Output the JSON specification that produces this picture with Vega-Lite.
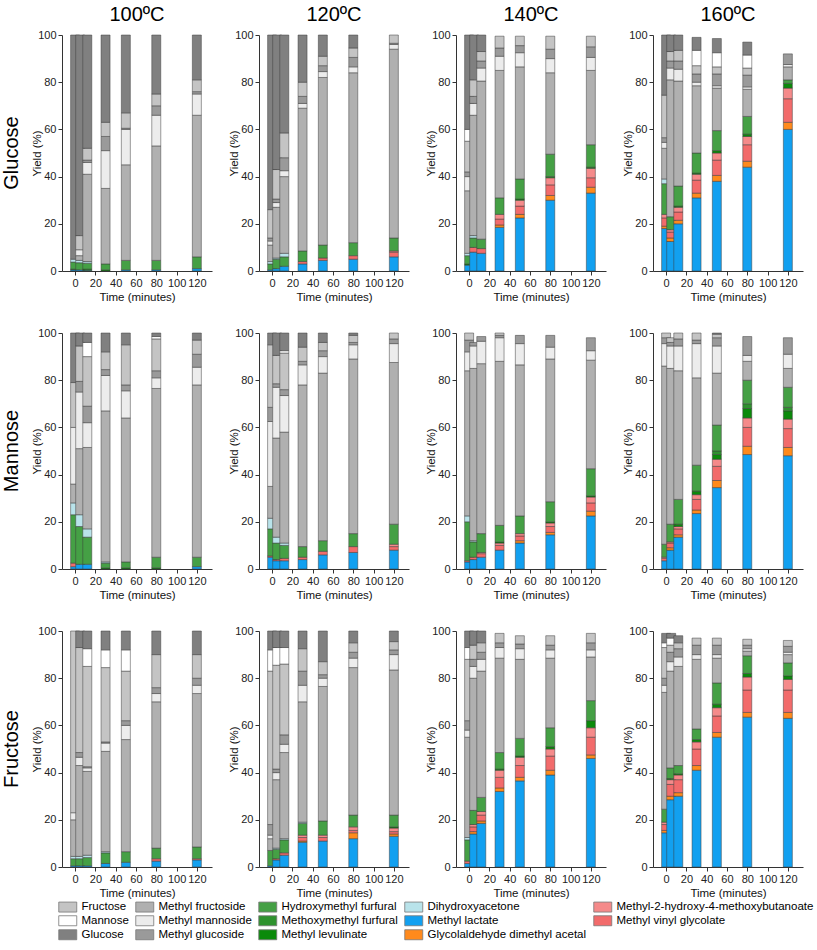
{
"$schema": "https://vega.github.io/schema/vega-lite/v6.json",
"background": "white",
"padding": {"left": 2, "top": 5, "right": 2, "bottom": 2},
"data": {"values": [
{"s":"Glucose","T":"100ºC","t":0,"ML":0.5,"MLev":0.3,"HMF":3,"DHA":1.2,"Glu":95},
{"s":"Glucose","T":"100ºC","t":5,"ML":0.5,"HMF":3,"DHA":1,"MFr":2,"MMa":2.5,"Fru":6,"Glu":85},
{"s":"Glucose","T":"100ºC","t":12,"ML":0.3,"MLev":0.5,"HMF":2.5,"DHA":0.7,"MFr":37,"MMa":5,"MGl":1,"Fru":5,"Glu":48},
{"s":"Glucose","T":"100ºC","t":30,"MLev":0.5,"HMF":2.5,"MFr":32,"MMa":16,"MGl":6,"Fru":6,"Glu":37},
{"s":"Glucose","T":"100ºC","t":50,"ML":0.5,"HMF":4,"MFr":40.5,"MMa":15,"MGl":0.5,"Fru":6.5,"Glu":33},
{"s":"Glucose","T":"100ºC","t":80,"ML":0.5,"HMF":4,"MFr":48.5,"MMa":13,"MGl":4,"Fru":5,"Glu":25},
{"s":"Glucose","T":"100ºC","t":120,"ML":1,"HMF":5,"MFr":60,"MMa":9,"MGl":1,"Fru":5,"Glu":19},
{"s":"Glucose","T":"120ºC","t":0,"ML":0.5,"HMF":2.5,"DHA":1,"MFr":7,"MMa":1.7,"MGl":1.3,"Fru":12,"Glu":74},
{"s":"Glucose","T":"120ºC","t":5,"ML":1,"HMF":4,"DHA":0.5,"MFr":21.5,"MMa":2,"MGl":1.5,"Fru":12.5,"Glu":57},
{"s":"Glucose","T":"120ºC","t":12,"ML":2,"HMF":4,"DHA":1.5,"MFr":32.5,"MMa":2.5,"MGl":5.5,"Fru":10.5,"Glu":41.5},
{"s":"Glucose","T":"120ºC","t":30,"ML":3,"MVG":1,"HMF":4.5,"MFr":60.5,"MMa":2,"MGl":3,"Fru":6,"Glu":20},
{"s":"Glucose","T":"120ºC","t":50,"ML":4.5,"MVG":1,"HMF":5.5,"MFr":71,"MMa":2.5,"MGl":2.5,"Fru":4,"Glu":9},
{"s":"Glucose","T":"120ºC","t":80,"ML":5,"MVG":1.5,"HMF":5.5,"MFr":72,"MMa":2.5,"MGl":4,"Fru":4,"Glu":5.5},
{"s":"Glucose","T":"120ºC","t":120,"ML":6,"MVG":2,"MHMB":0.5,"HMF":5.5,"MFr":80,"MMa":2,"MGl":0.5,"Fru":3.5},
{"s":"Glucose","T":"140ºC","t":0,"ML":2.5,"MLev":0.5,"HMF":3.5,"DHA":1,"MFr":26.5,"MMa":6,"MGl":2,"Fru":13,"Man":5,"Glu":40},
{"s":"Glucose","T":"140ºC","t":5,"ML":8,"MVG":2,"HMF":4,"DHA":1,"MFr":51,"MMa":5,"MGl":3,"Fru":7,"Glu":19},
{"s":"Glucose","T":"140ºC","t":12,"ML":7.5,"MVG":2,"HMF":4,"MFr":67,"MMa":5.5,"MGl":3,"Fru":4,"Glu":7},
{"s":"Glucose","T":"140ºC","t":30,"ML":18.5,"GA":1,"MVG":2.5,"MHMB":2,"HMF":7,"MFr":54,"MMa":6,"MGl":3.5,"Fru":5},
{"s":"Glucose","T":"140ºC","t":50,"ML":22.5,"GA":1.5,"MVG":3.5,"MHMB":2.5,"MLev":0.5,"HMF":8.5,"MFr":47.5,"MMa":6,"MGl":3,"Fru":4},
{"s":"Glucose","T":"140ºC","t":80,"ML":30,"GA":2,"MVG":4.5,"MHMB":3,"MLev":0.5,"HMF":9.5,"MFr":34.5,"MMa":6,"MGl":4,"Fru":5.5},
{"s":"Glucose","T":"140ºC","t":120,"ML":33,"GA":2.5,"MVG":4,"MHMB":4,"MLev":0.5,"HMF":9.5,"MFr":31.5,"MMa":5.5,"MGl":4.5,"Fru":4.5},
{"s":"Glucose","T":"160ºC","t":0,"ML":18,"GA":1,"MVG":3.5,"MHMB":1.5,"HMF":13,"DHA":2,"MFr":13,"MMa":2.5,"MGl":2,"Fru":18,"Glu":25.5},
{"s":"Glucose","T":"160ºC","t":5,"ML":12.5,"GA":1.5,"MVG":2.5,"MHMB":1,"HMF":5.5,"MFr":58,"MMa":5,"MGl":3,"Fru":4,"Glu":7},
{"s":"Glucose","T":"160ºC","t":12,"ML":20,"GA":1.5,"MVG":3.5,"MHMB":2,"MLev":0.5,"HMF":8.5,"MFr":44.5,"MMa":5,"MGl":3.5,"Fru":4.5,"Glu":6.5},
{"s":"Glucose","T":"160ºC","t":30,"ML":31,"GA":2,"MVG":5.5,"MHMB":2.5,"MLev":0.5,"HMF":8.5,"MFr":28.5,"MMa":1.5,"MGl":3.5,"Fru":3.5,"Man":6.5,"Glu":5.5},
{"s":"Glucose","T":"160ºC","t":50,"ML":38,"GA":2.5,"MVG":6.5,"MHMB":3,"MLev":1,"HMF":8.5,"MFr":18,"MMa":1,"MGl":5,"Fru":3,"Man":6,"Glu":6},
{"s":"Glucose","T":"160ºC","t":80,"ML":44,"GA":2.5,"MVG":7,"MHMB":3.5,"MLev":1,"HMF":7.5,"MFr":11.5,"MMa":1,"MGl":5,"Fru":3,"Man":5.5,"Glu":5.5},
{"s":"Glucose","T":"160ºC","t":120,"ML":60,"GA":3,"MVG":10,"MHMB":4.5,"MLev":2,"HMF":1.5,"MFr":5.5,"MMa":1,"MGl":4.5},
{"s":"Mannose","T":"100ºC","t":0,"ML":1,"MVG":1.5,"HMF":20.5,"DHA":5,"MFr":8,"MMa":24,"Fru":19,"Glu":21},
{"s":"Mannose","T":"100ºC","t":5,"ML":2,"HMF":16,"DHA":5,"MFr":28,"MMa":24,"MGl":4.5,"Fru":15,"Glu":5.5},
{"s":"Mannose","T":"100ºC","t":12,"ML":2,"HMF":11.5,"DHA":3.5,"MFr":34.5,"MMa":10.5,"MGl":7,"Fru":21,"Man":6,"Glu":4},
{"s":"Mannose","T":"100ºC","t":30,"MLev":0.5,"HMF":2,"DHA":0.5,"MFr":64,"MMa":15,"MGl":2.5,"Fru":7.5,"Glu":8},
{"s":"Mannose","T":"100ºC","t":50,"MLev":0.5,"HMF":2.5,"MFr":61,"MMa":11.5,"MGl":2.5,"Fru":17,"Glu":5},
{"s":"Mannose","T":"100ºC","t":80,"MLev":0.5,"HMF":4.5,"MFr":71.5,"MMa":4.5,"MGl":3,"Fru":13.5,"Man":1,"Glu":1.5},
{"s":"Mannose","T":"100ºC","t":120,"ML":1,"HMF":4,"MFr":73,"MMa":7.5,"MGl":5.5,"Fru":6,"Glu":3},
{"s":"Mannose","T":"120ºC","t":0,"ML":5,"MVG":0.5,"HMF":11.5,"DHA":4.5,"MFr":13.5,"MMa":27.5,"MGl":6,"Fru":26.5,"Glu":5},
{"s":"Mannose","T":"120ºC","t":5,"ML":3.5,"MVG":0.5,"HMF":7,"DHA":2.5,"MFr":42,"MMa":21.5,"MGl":1.5,"Fru":12,"Glu":9.5},
{"s":"Mannose","T":"120ºC","t":12,"ML":3.5,"MVG":1,"HMF":5.5,"DHA":1,"MFr":47,"MMa":15.5,"MGl":2.5,"Fru":15.5,"Man":1,"Glu":7.5},
{"s":"Mannose","T":"120ºC","t":30,"ML":4,"MVG":1,"HMF":4.5,"MFr":68.5,"MMa":8.5,"MGl":1.5,"Fru":6,"Glu":6},
{"s":"Mannose","T":"120ºC","t":50,"ML":6,"MVG":1.5,"HMF":4.5,"MFr":71,"MMa":7,"MGl":2.5,"Fru":3.5,"Glu":4},
{"s":"Mannose","T":"120ºC","t":80,"ML":7,"MVG":2.5,"HMF":5.5,"MFr":74,"MMa":6,"MGl":1,"Fru":3,"Glu":1},
{"s":"Mannose","T":"120ºC","t":120,"ML":8,"MVG":1.5,"MHMB":1,"HMF":8.5,"MFr":68.5,"MMa":8,"MGl":2,"Fru":2.5},
{"s":"Mannose","T":"140ºC","t":0,"ML":3,"MVG":0.5,"HMF":16.5,"DHA":2.5,"MFr":61.5,"MMa":8,"MGl":5,"Fru":3},
{"s":"Mannose","T":"140ºC","t":5,"ML":4,"MVG":1,"HMF":6.5,"DHA":0.5,"MFr":73,"MMa":9.5,"MGl":1.5},
{"s":"Mannose","T":"140ºC","t":12,"ML":5,"MVG":1.5,"MHMB":0.5,"HMF":8,"MFr":72,"MMa":9.5,"MGl":2},
{"s":"Mannose","T":"140ºC","t":30,"ML":8,"MVG":2,"MHMB":1,"MLev":0.5,"HMF":7,"MFr":69.5,"MMa":10,"MGl":1,"Fru":1},
{"s":"Mannose","T":"140ºC","t":50,"ML":11,"GA":1,"MVG":2,"MHMB":1,"HMF":7.5,"MFr":64,"MMa":9,"MGl":3.5},
{"s":"Mannose","T":"140ºC","t":80,"ML":14.5,"GA":1,"MVG":2.5,"MHMB":1.5,"MLev":0.5,"HMF":8.5,"MFr":60.5,"MMa":5,"MGl":5},
{"s":"Mannose","T":"140ºC","t":120,"ML":22.5,"GA":2,"MVG":3.5,"MHMB":2.5,"MLev":0.5,"HMF":11.5,"MFr":46,"MMa":4,"MGl":5.5},
{"s":"Mannose","T":"160ºC","t":0,"ML":3.5,"MVG":1,"MHMB":0.5,"HMF":5.5,"MFr":75.5,"MMa":9.5,"MGl":2.5,"Fru":2},
{"s":"Mannose","T":"160ºC","t":5,"ML":8,"GA":1,"MVG":2,"MHMB":0.5,"HMF":7.5,"MFr":66,"MMa":9.5,"MGl":1.5,"Fru":2},
{"s":"Mannose","T":"160ºC","t":12,"ML":13.5,"GA":1,"MVG":2.5,"MHMB":1,"MLev":1,"HMF":10.5,"MFr":54.5,"MMa":10.5,"MGl":3,"Fru":2.5},
{"s":"Mannose","T":"160ºC","t":30,"ML":23.5,"GA":1.5,"MVG":4.5,"MHMB":2,"MLev":1.5,"HMF":11,"MFr":37,"MMa":14.5,"MGl":1.5,"Fru":3},
{"s":"Mannose","T":"160ºC","t":50,"ML":34.5,"GA":3,"MVG":6,"MHMB":3,"MLev":2,"MMF":1.5,"HMF":11,"MFr":22,"MMa":11.5,"MGl":3.5,"Fru":1.5,"Glu":0.5},
{"s":"Mannose","T":"160ºC","t":80,"ML":48.5,"GA":3.5,"MVG":8,"MHMB":4,"MLev":4,"MMF":2,"HMF":10,"MFr":8,"MMa":2.5,"MGl":8},
{"s":"Mannose","T":"160ºC","t":120,"ML":48,"GA":3.5,"MVG":8,"MHMB":4,"MLev":3.5,"MMF":1.5,"HMF":8.5,"MFr":8,"MMa":6,"MGl":7},
{"s":"Fructose","T":"100ºC","t":0,"ML":0.5,"HMF":3,"DHA":1,"MFr":15.5,"MMa":3,"Fru":77},
{"s":"Fructose","T":"100ºC","t":5,"ML":0.5,"HMF":3,"DHA":1,"MFr":38.5,"MMa":3.5,"MGl":2,"Fru":44.5,"Glu":7},
{"s":"Fructose","T":"100ºC","t":12,"ML":0.5,"HMF":3.5,"DHA":1,"MFr":35.5,"MMa":1.5,"MGl":0.5,"Fru":42.5,"Man":7.5,"Glu":7.5},
{"s":"Fructose","T":"100ºC","t":30,"ML":1.5,"HMF":4.5,"DHA":0.5,"MFr":42.5,"MMa":3.5,"MGl":0.5,"Fru":31.5,"Man":7.5,"Glu":8},
{"s":"Fructose","T":"100ºC","t":50,"ML":2,"HMF":4.5,"MFr":47.5,"MMa":6,"MGl":2,"Fru":21,"Man":9,"Glu":8},
{"s":"Fructose","T":"100ºC","t":80,"ML":2.5,"MVG":1,"HMF":4.5,"MFr":62,"MMa":3.5,"MGl":2.5,"Fru":14,"Glu":10},
{"s":"Fructose","T":"100ºC","t":120,"ML":3,"MVG":0.5,"HMF":5,"MFr":65,"MMa":3.5,"MGl":3,"Fru":10,"Glu":10},
{"s":"Fructose","T":"120ºC","t":0,"ML":0.5,"HMF":6.5,"MFr":5,"MMa":1.5,"MGl":4.5,"Fru":65,"Man":9,"Glu":8},
{"s":"Fructose","T":"120ºC","t":5,"ML":3,"MVG":0.5,"HMF":4,"DHA":0.5,"MFr":29,"MMa":3,"MGl":1.5,"Fru":44,"Man":7.5,"Glu":7},
{"s":"Fructose","T":"120ºC","t":12,"ML":5,"MVG":1,"HMF":5.5,"DHA":0.5,"MFr":36.5,"MMa":3.5,"MGl":4,"Fru":30,"Man":7,"Glu":7},
{"s":"Fructose","T":"120ºC","t":30,"ML":10.5,"GA":0.5,"MVG":1.5,"MHMB":1,"HMF":5,"DHA":0.5,"MFr":51,"MMa":7,"MGl":6,"Fru":9.5,"Glu":7.5},
{"s":"Fructose","T":"120ºC","t":50,"ML":11,"MVG":1.5,"MHMB":1,"HMF":6,"MFr":57,"MMa":3.5,"MGl":1.5,"Fru":5.5,"Glu":13},
{"s":"Fructose","T":"120ºC","t":80,"ML":12,"GA":2.5,"MVG":1,"MHMB":1.5,"HMF":5,"MFr":62.5,"MMa":4,"MGl":2.5,"Fru":4,"Glu":5},
{"s":"Fructose","T":"120ºC","t":120,"ML":13,"GA":1,"MVG":1,"MHMB":1.5,"MLev":0.5,"HMF":5,"MFr":61.5,"MMa":6.5,"MGl":2,"Fru":3.5,"Glu":4.5},
{"s":"Fructose","T":"140ºC","t":0,"ML":1.5,"MVG":1,"HMF":9,"DHA":1,"MFr":42.5,"MMa":3,"MGl":4,"Fru":26,"Man":5,"Glu":7},
{"s":"Fructose","T":"140ºC","t":5,"ML":14,"GA":1,"MVG":2,"MHMB":1,"HMF":6,"MFr":56,"MMa":5,"MGl":3,"Fru":6,"Glu":6},
{"s":"Fructose","T":"140ºC","t":12,"ML":18.5,"GA":1,"MVG":2.5,"MHMB":1.5,"HMF":6,"MFr":53.5,"MMa":5,"MGl":3,"Fru":4,"Glu":5},
{"s":"Fructose","T":"140ºC","t":30,"ML":32,"GA":1.5,"MVG":4.5,"MHMB":3,"MLev":0.5,"HMF":7,"MFr":40,"MMa":4.5,"MGl":2,"Fru":4},
{"s":"Fructose","T":"140ºC","t":50,"ML":36.5,"GA":1.5,"MVG":5,"MHMB":3.5,"MLev":0.5,"HMF":7.5,"MFr":33.5,"MMa":4.5,"MGl":2,"Fru":3.5},
{"s":"Fructose","T":"140ºC","t":80,"ML":39,"GA":2,"MVG":6,"MHMB":3,"MLev":1,"HMF":8,"MFr":29.5,"MMa":3.5,"MGl":2,"Fru":4},
{"s":"Fructose","T":"140ºC","t":120,"ML":46,"GA":1.5,"MVG":7.5,"MHMB":4,"MLev":3,"HMF":8.5,"MFr":18.5,"MMa":3,"MGl":3,"Fru":4},
{"s":"Fructose","T":"160ºC","t":0,"ML":14.5,"GA":1,"MVG":2.5,"MHMB":1,"HMF":5.5,"MFr":49.5,"MMa":3,"MGl":3,"Fru":13,"Man":2,"Glu":4},
{"s":"Fructose","T":"160ºC","t":5,"ML":28.5,"GA":1.5,"MVG":5,"MHMB":2,"MLev":0.5,"HMF":4.5,"MFr":41,"MMa":4,"MGl":4,"Fru":3,"Man":3,"Glu":2},
{"s":"Fructose","T":"160ºC","t":12,"ML":30,"GA":1.5,"MVG":5.5,"MHMB":2,"MLev":0.5,"HMF":3.5,"MFr":42,"MMa":4,"MGl":3.5,"Fru":2.5,"Glu":3},
{"s":"Fructose","T":"160ºC","t":30,"ML":41,"GA":2,"MVG":7,"MHMB":3,"MLev":1,"HMF":4.5,"MFr":29.5,"MMa":2,"MGl":4,"Fru":3},
{"s":"Fructose","T":"160ºC","t":50,"ML":55,"GA":2,"MVG":7,"MHMB":3.5,"MLev":1.5,"HMF":9,"MFr":10.5,"MMa":1.5,"MGl":4,"Fru":3},
{"s":"Fructose","T":"160ºC","t":80,"ML":63.5,"GA":2,"MVG":9.5,"MHMB":5.5,"MLev":1.5,"HMF":7.5,"MFr":2,"MMa":1,"MGl":1.5,"Fru":2.5},
{"s":"Fructose","T":"160ºC","t":120,"ML":63,"GA":2.5,"MVG":9.5,"MHMB":4.5,"MLev":1.5,"HMF":5.5,"MFr":3.5,"MMa":1,"MGl":2.5,"Fru":2.5}
]},
"transform": [
{"fold": ["ML","GA","MVG","MHMB","MLev","MMF","HMF","DHA","MFr","MMa","MGl","Fru","Man","Glu"], "as": ["k","v"]},
{"filter": "isValid(datum.v)"},
{"lookup": "k", "from": {"data": {"values": [
{"k":"ML","name":"Methyl lactate","o":1},
{"k":"GA","name":"Glycolaldehyde dimethyl acetal","o":2},
{"k":"MVG","name":"Methyl vinyl glycolate","o":3},
{"k":"MHMB","name":"Methyl-2-hydroxy-4-methoxybutanoate","o":4},
{"k":"MLev","name":"Methyl levulinate","o":5},
{"k":"MMF","name":"Methoxymethyl furfural","o":6},
{"k":"HMF","name":"Hydroxymethyl furfural","o":7},
{"k":"DHA","name":"Dihydroxyacetone","o":8},
{"k":"MFr","name":"Methyl fructoside","o":9},
{"k":"MMa","name":"Methyl mannoside","o":10},
{"k":"MGl","name":"Methyl glucoside","o":11},
{"k":"Fru","name":"Fructose","o":12},
{"k":"Man","name":"Mannose","o":13},
{"k":"Glu","name":"Glucose","o":14}
]}, "key": "k", "fields": ["name","o"]}}
],
"facet": {
"row": {"field": "s", "type": "nominal", "sort": ["Glucose","Mannose","Fructose"], "header": {"title": null, "labelFontSize": 20, "labelFont": "Liberation Sans", "labelColor": "black", "labelAngle": -90, "labelPadding": 30}},
"column": {"field": "T", "type": "nominal", "sort": ["100ºC","120ºC","140ºC","160ºC"], "header": {"title": null, "labelFontSize": 20, "labelFont": "Liberation Sans", "labelColor": "black", "labelPadding": 10}}
},
"bounds": "flush",
"spacing": {"row": 62, "column": 47},
"resolve": {"axis": {"x": "independent", "y": "independent"}},
"spec": {
"width": 150,
"height": 236,
"mark": {"type": "bar", "size": 9, "stroke": "#3c3c3c", "strokeWidth": 0.5},
"encoding": {
"x": {"field": "t", "type": "quantitative", "scale": {"domain": [-8, 130], "nice": false, "zero": false}, "axis": {"values": [0,20,40,60,80,100,120], "title": "Time (minutes)"}},
"y": {"field": "v", "type": "quantitative", "stack": "zero", "scale": {"domain": [0, 100], "nice": false}, "axis": {"values": [0,20,40,60,80,100], "title": "Yield (%)"}},
"color": {"field": "name", "type": "nominal",
"scale": {
"domain": ["Fructose","Methyl fructoside","Hydroxymethyl furfural","Dihydroxyacetone","Methyl-2-hydroxy-4-methoxybutanoate","Mannose","Methyl mannoside","Methoxymethyl furfural","Methyl lactate","Methyl vinyl glycolate","Glucose","Methyl glucoside","Methyl levulinate","Glycolaldehyde dimethyl acetal"],
"range": ["#c4c4c4","#b0b0b0","#45a045","#b9e3ea","#f58a8a","#ffffff","#ececec","#2e922e","#12a0f0","#f26b6b","#808080","#9a9a9a","#0b8a0b","#ff8a1c"]},
"legend": {"title": null, "orient": "bottom", "direction": "horizontal", "columns": 5, "symbolType": "M-1.8,-1H1.8V1H-1.8Z", "symbolSize": 100, "symbolStrokeColor": "#777", "symbolStrokeWidth": 0.8, "labelFontSize": 11.5, "labelFont": "Liberation Sans", "labelColor": "black", "columnPadding": 5, "rowPadding": 0, "labelOffset": 8, "offset": 2, "labelLimit": 300}},
"order": {"field": "o", "type": "quantitative", "sort": "ascending"}
}
},
"config": {
"view": {"stroke": null},
"axis": {"grid": false, "labelFont": "Liberation Sans", "labelFontSize": 11, "labelColor": "#222", "titleFont": "Liberation Sans", "titleFontSize": 11.5, "titleFontWeight": "normal", "titleColor": "#111", "domainColor": "#333", "tickColor": "#333", "tickSize": 4, "labelPadding": 2},
"axisY": {"titlePadding": -5},
"axisX": {"titlePadding": 3}
}
}
